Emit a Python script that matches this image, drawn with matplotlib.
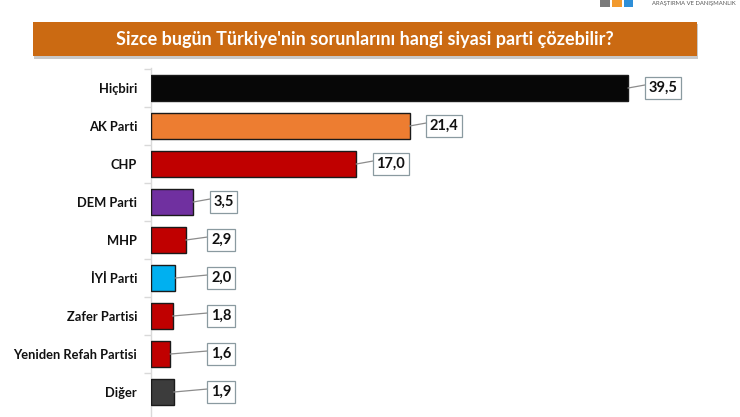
import matplotlib
matplotlib.use("Agg")
import matplotlib.pyplot as plt
from matplotlib.patches import Rectangle

categories = ["Hiçbiri", "AK Parti", "CHP", "DEM Parti", "MHP", "İYİ Parti",
              "Zafer Partisi", "Yeniden Refah Partisi", "Diğer"]
values = [39.5, 21.4, 17.0, 3.5, 2.9, 2.0, 1.8, 1.6, 1.9]
value_labels = ["39,5", "21,4", "17,0", "3,5", "2,9", "2,0", "1,8", "1,6", "1,9"]
colors = ["#070707", "#ED7D31", "#C00000", "#7030A0", "#C00000", "#00B0F0",
          "#C00000", "#C00000", "#3C3C3C"]
title = "Sizce bugün Türkiye'nin sorunlarını hangi siyasi parti çözebilir?"

plt.rcParams['font.family'] = ['Lato', 'DejaVu Sans']

W, H = 740, 417
fig = plt.figure(figsize=(W / 100, H / 100), dpi=100)
fig.patch.set_facecolor("white")

ax_left, ax_right = 151, 731
ax_top, ax_bottom = 68, 417
ax = fig.add_axes([ax_left / W, 1 - ax_bottom / H, (ax_right - ax_left) / W, (ax_bottom - ax_top) / H])
ax.set_facecolor("none")

xmax = (ax_right - ax_left) / 12.08
ax.set_xlim(0, xmax)
n = len(categories)
y = list(range(n))
ax.set_ylim((ax_bottom - 88) / 38, (ax_top - 88) / 38)

ax.barh(y, values, height=0.69, color=colors, edgecolor="#1a1a1a", linewidth=1.0, zorder=3)

for s in ["top", "right", "bottom"]:
    ax.spines[s].set_visible(False)
ax.spines["left"].set_color("#d9d9d9")
ax.spines["left"].set_linewidth(1.0)
ax.set_xticks([])
ax.set_yticks(y)
ax.set_yticklabels(categories, fontsize=9.3, fontweight="bold", color="#111111")
ax.tick_params(axis="y", length=0, pad=10)
ax.set_yticks([i - 0.5 for i in range(n)], minor=True)
ax.tick_params(axis="y", which="minor", length=5, color="#d9d9d9", width=1)

px = xmax / (ax_right - ax_left)
min_left = (208 - ax_left) * px
for i, (v, lab) in enumerate(zip(values, value_labels)):
    box_left = max(v + 17 * px, min_left)
    ax.text(box_left + 3 * px, i, lab, ha="left", va="center", fontsize=10.5,
            fontweight="bold", color="#111111", zorder=5,
            bbox=dict(boxstyle="square,pad=0.25", facecolor="white",
                      edgecolor="#8a9aa0", linewidth=0.9))
    ax.plot([v, box_left], [i, i - 0.08], color="#8c8c8c", linewidth=0.9, zorder=4)

# title banner with soft bottom shadow
fig.patches.append(Rectangle((34 / W, 1 - 58.5 / H), (697 - 33) / W, 34 / H,
                             transform=fig.transFigure, facecolor="#c8c8c8", edgecolor="none", zorder=0))
fig.patches.append(Rectangle((33 / W, 1 - 56 / H), (697 - 33) / W, 34 / H,
                             transform=fig.transFigure, facecolor="#CB6A12", edgecolor="none", zorder=1))
fig.text(365 / W, 1 - 39.5 / H, title, ha="center", va="center", fontsize=13,
         fontweight="bold", color="white", zorder=2)

# logo fragment
fig.text(652 / W, 1 - 4 / H, "ARAŞTIRMA VE DANIŞMANLIK", ha="left", va="center",
         fontsize=4.2, color="#555555")
fig.patches.append(Rectangle((600 / W, 1 - 7 / H), 10 / W, 7 / H, transform=fig.transFigure,
                             facecolor="#7a7a7a", edgecolor="none"))
fig.patches.append(Rectangle((612 / W, 1 - 7 / H), 10 / W, 7 / H, transform=fig.transFigure,
                             facecolor="#f29a2e", edgecolor="none"))
fig.patches.append(Rectangle((624 / W, 1 - 7 / H), 9 / W, 7 / H, transform=fig.transFigure,
                             facecolor="#2e8fd8", edgecolor="none"))

fig.savefig("out.png", dpi=100)
